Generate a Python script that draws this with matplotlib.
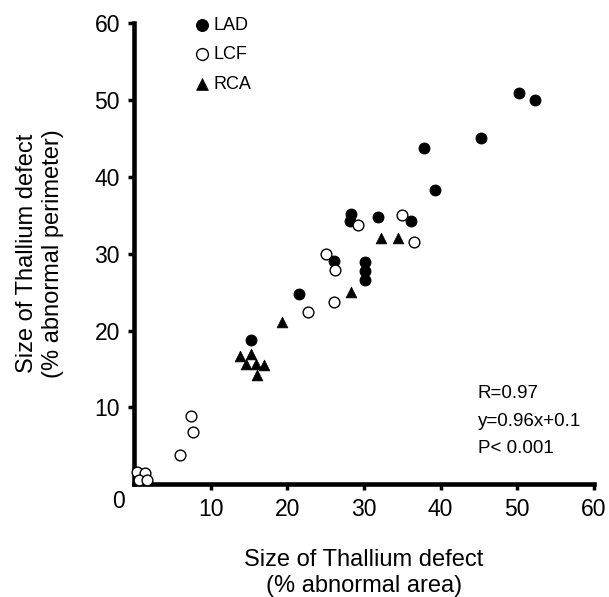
import matplotlib
matplotlib.use('Agg')
import matplotlib.pyplot as plt

plt.rcParams['font.family'] = ['Liberation Sans', 'DejaVu Sans']

# LAD (filled circles)
lad_x = [50.3, 52.3, 45.3, 37.9, 39.3, 28.3, 28.2, 31.8, 36.2, 26.1, 30.1, 30.1, 30.1, 21.5, 15.3]
lad_y = [50.9, 50.0, 45.1, 43.7, 38.3, 35.2, 34.2, 34.8, 34.3, 29.1, 28.9, 27.8, 26.6, 24.8, 18.8]

# LCF (open circles)
lcf_x = [29.2, 35.0, 36.6, 25.1, 26.2, 26.1, 22.7, 7.5, 7.7, 6.0, 0.4, 1.5, 0.7, 1.7]
lcf_y = [33.7, 35.0, 31.5, 30.0, 27.9, 23.7, 22.4, 8.9, 6.8, 3.8, 1.6, 1.4, 0.6, 0.6]

# RCA (filled triangles)
rca_x = [32.2, 34.5, 28.3, 19.3, 13.9, 15.3, 14.6, 15.9, 17.0, 16.1]
rca_y = [32.1, 32.1, 25.0, 21.1, 16.7, 17.0, 15.7, 15.6, 15.5, 14.2]

ticks = [10, 20, 30, 40, 50, 60]

fig = plt.figure(figsize=(6.09, 5.97), dpi=100)
ax = fig.add_axes([0.220, 0.189, 0.755, 0.772])

ax.scatter(lad_x, lad_y, s=60, marker='o', c='black', edgecolors='black',
           linewidths=0.8, label='LAD', clip_on=False, zorder=3)
ax.scatter(lcf_x, lcf_y, s=60, marker='o', c='white', edgecolors='black',
           linewidths=1.0, label='LCF', clip_on=False, zorder=3)
ax.scatter(rca_x, rca_y, s=60, marker='^', c='black', edgecolors='black',
           linewidths=0.5, label='RCA', clip_on=False, zorder=3)

ax.set_xlim(0, 60)
ax.set_ylim(0, 60)
ax.set_xticks(ticks)
ax.set_yticks(ticks)
ax.tick_params(axis='both', direction='out', length=4, width=2.5,
               labelsize=16.5, pad=6)

for side in ['top', 'right']:
    ax.spines[side].set_visible(False)
for side in ['left', 'bottom']:
    ax.spines[side].set_linewidth(3.3)

# lone zero at the corner
ax.text(-0.02, -0.013, '0', transform=ax.transAxes, fontsize=16.5,
        ha='right', va='top')

ax.set_xlabel('Size of Thallium defect\n(% abnormal area)', fontsize=17,
              labelpad=20, linespacing=1.25)
ax.set_ylabel('Size of Thallium defect\n(% abnormal perimeter)', fontsize=17,
              labelpad=22, linespacing=1.25)

ax.legend(loc='upper left', bbox_to_anchor=(0.112, 1.03), frameon=False,
          fontsize=13, handletextpad=0.15, labelspacing=0.69,
          handlelength=1.0, borderaxespad=0, markerscale=1.1)

ax.text(0.748, 0.137, 'R=0.97\ny=0.96x+0.1\nP< 0.001', transform=ax.transAxes,
        fontsize=13.5, ha='left', va='center', linespacing=1.8)

plt.savefig('out.png', dpi=100)
